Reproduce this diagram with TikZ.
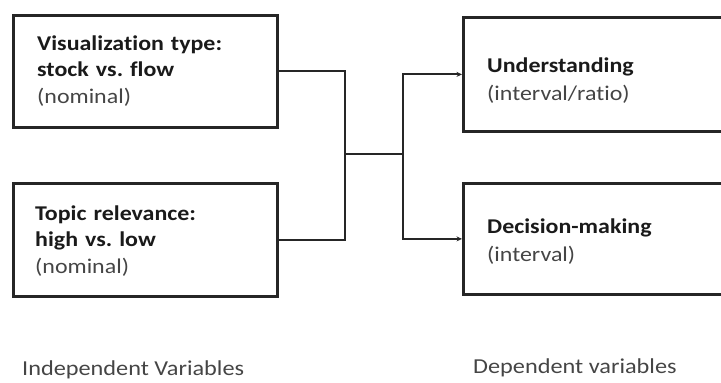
\documentclass[tikz,border=0pt]{standalone}
\usepackage{fontspec}
\setmainfont{Carlito}[FakeStretch=1.14,Ligatures=NoCommon]
\usetikzlibrary{arrows.meta}
\definecolor{boldtxt}{HTML}{1A1A1A}
\definecolor{normtxt}{HTML}{454545}
\frenchspacing
\begin{document}
\begin{tikzpicture}[x=1pt,y=-1pt,
  varbox/.style={draw=black!85,line width=2.8pt,rectangle,anchor=north west,inner sep=0pt},
  vartext/.style={anchor=base west,inner sep=0pt,align=left,text width=230pt,text=normtxt},
  lefttext/.style={vartext,font=\fontsize{21}{26.5}\selectfont},
  righttext/.style={vartext,font=\fontsize{21}{28.5}\selectfont},
  conn/.style={draw=black!85,line width=2pt},
  arr/.style={conn,-{Stealth[length=5.5pt,width=5pt]}},
  caption/.style={anchor=base west,inner sep=0pt,font=\fontsize{21.3}{24}\selectfont,text=normtxt}]
\useasboundingbox (0,0) rectangle (721,383);
\node[varbox,minimum width=264pt,minimum height=112pt] (v) at (12,14) {};
\node[varbox,minimum width=264pt,minimum height=113pt] (t) at (12,182) {};
\node[varbox,minimum width=270pt,minimum height=114pt] (u) at (462,16) {};
\node[varbox,minimum width=270pt,minimum height=111pt] (d) at (462,182) {};
\node[lefttext] (vt) at (37,50)
  {\textbf{\textcolor{boldtxt}{Visualization type:}}\\\textbf{\textcolor{boldtxt}{stock vs. flow}}\\(nominal)};
\node[lefttext] (tt) at (35,220)
  {\textbf{\textcolor{boldtxt}{Topic relevance:}}\\\textbf{\textcolor{boldtxt}{high vs. low}}\\(nominal)};
\node[righttext] (ut) at (487,72)
  {\textbf{\textcolor{boldtxt}{Understanding}}\\(interval/ratio)};
\node[righttext] (dt) at (487,233)
  {\textbf{\textcolor{boldtxt}{Decision-making}}\\(interval)};
\coordinate (j) at (345,154);
\coordinate (k) at (403,154);
\draw[conn] (v.east) -| (j);
\draw[conn] (t.east) -| (j);
\draw[conn] (j) -- (k);
\draw[arr] (k) |- (u.west);
\draw[arr] (k) |- (d.west);
\node[caption] (iv) at (22,375) {Independent Variables};
\node[caption] (dv) at (473,373) {Dependent variables};
\end{tikzpicture}
\end{document}
